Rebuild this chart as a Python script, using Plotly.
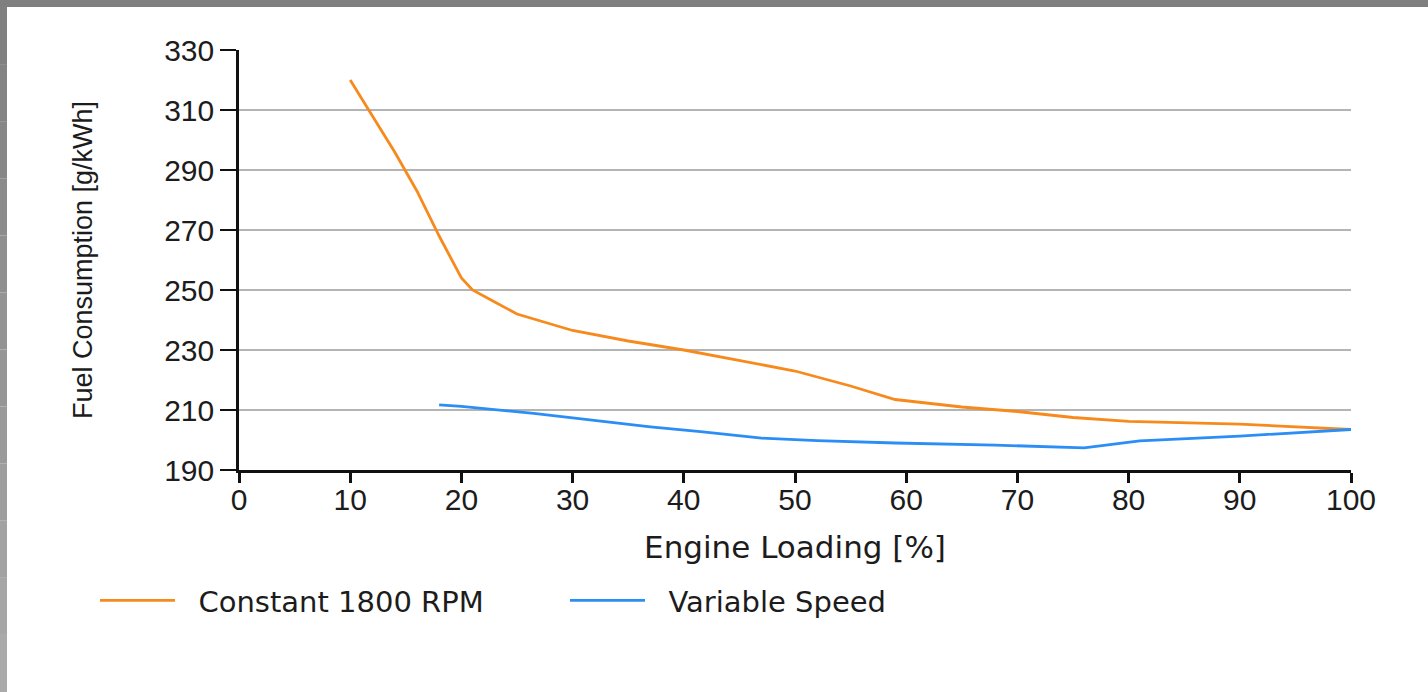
import plotly.graph_objects as go

# ---- data ----
load_const = [10, 12, 14, 16, 18, 20, 21, 23, 25, 30, 35, 40, 45, 50, 55, 59, 65, 70, 75, 80, 90, 100]
fuel_const = [320, 308, 296, 283, 268, 254, 250, 246, 242, 236.5, 233, 230, 226.5, 223, 218, 213.5, 211, 209.5, 207.5, 206.2, 205.3, 203.5]

load_var = [18, 20, 26.5, 30, 37, 41.5, 47, 52, 59, 68, 73, 76, 81, 90, 100]
fuel_var = [211.7, 211.2, 208.9, 207.4, 204.4, 202.8, 200.6, 199.8, 199.0, 198.3, 197.8, 197.4, 199.7, 201.3, 203.5]

series_names = ["Constant 1800 RPM", "Variable Speed"]
series_colors = ["#f78a1d", "#2b8ef5"]

x_ticks = [0, 10, 20, 30, 40, 50, 60, 70, 80, 90, 100]
y_ticks = [190, 210, 230, 250, 270, 290, 310, 330]

x_title = "Engine Loading [%]"
y_title = "Fuel Consumption [g/kWh]"

# ---- figure geometry ----
W, H = 1428, 692
ML, MR, MT, MB = 239, 77, 50, 222
PW = W - ML - MR
PH = H - MT - MB


def px_x(p):
    return (p - ML) / PW


def px_y(p):
    return (H - MB - p) / PH


NB = "\u00a0\u00a0"  # small gap between legend sample line and its label

fig = go.Figure()
fig.add_trace(go.Scatter(x=load_const, y=fuel_const, mode="lines", name=NB + series_names[0],
                         line=dict(color=series_colors[0], width=2.8)))
fig.add_trace(go.Scatter(x=load_var, y=fuel_var, mode="lines", name=NB + series_names[1],
                         line=dict(color=series_colors[1], width=2.8)))

tick_font = dict(family="Liberation Sans, Arial, sans-serif", size=30, color="#1c1c1c")

fig.update_xaxes(range=[0, 100], tickvals=x_ticks, ticktext=[str(v) for v in x_ticks],
                 showgrid=False, zeroline=False, showline=True, linecolor="#111111", linewidth=2.5,
                 ticks="outside", ticklen=10, tickwidth=2.5, tickcolor="#111111",
                 tickfont=tick_font, ticklabelstandoff=-9,
                 title=dict(text=x_title, font=dict(family="DejaVu Sans", size=31, color="#1c1c1c"),
                            standoff=22))
fig.update_yaxes(range=[190, 330], tickvals=y_ticks, ticktext=[str(v) for v in y_ticks],
                 showgrid=True, gridcolor="#b4b4b4", gridwidth=1.6, zeroline=False,
                 showline=True, linecolor="#111111", linewidth=2.5,
                 ticks="outside", ticklen=16, tickwidth=2, tickcolor="#111111",
                 tickfont=tick_font,
                 title=dict(text=y_title, font=dict(family="Liberation Sans, Arial", size=27, color="#1c1c1c"),
                            standoff=64))

# frame bands (top dark band and left grey band)
shapes = [dict(type="rect", xref="paper", yref="paper",
               x0=px_x(0), x1=px_x(W), y0=px_y(7), y1=px_y(0),
               fillcolor="#7f7f7f", line=dict(width=0), layer="above")]
n = 12
for i in range(n):
    g = int(0x80 + (0xaa - 0x80) * i / (n - 1))
    shapes.append(dict(type="rect", xref="paper", yref="paper",
                       x0=px_x(0), x1=px_x(7),
                       y0=px_y(7 + (H - 7) * (i + 1) / n), y1=px_y(7 + (H - 7) * i / n),
                       fillcolor="#%02x%02x%02x" % (g, g, g), line=dict(width=0), layer="above"))

fig.update_layout(
    width=W, height=H,
    margin=dict(l=ML, r=MR, t=MT, b=MB),
    paper_bgcolor="white", plot_bgcolor="white",
    shapes=shapes,
    showlegend=True,
    legend=dict(orientation="h", x=px_x(95), y=px_y(575), xanchor="left", yanchor="top",
                font=dict(family="DejaVu Sans", size=29, color="#1c1c1c"),
                itemwidth=75, entrywidth=380, entrywidthmode="pixels",
                bgcolor="rgba(0,0,0,0)"),
)

fig.write_html("out.html", config={"displayModeBar": False},
               post_script="document.body.style.margin='0';")
